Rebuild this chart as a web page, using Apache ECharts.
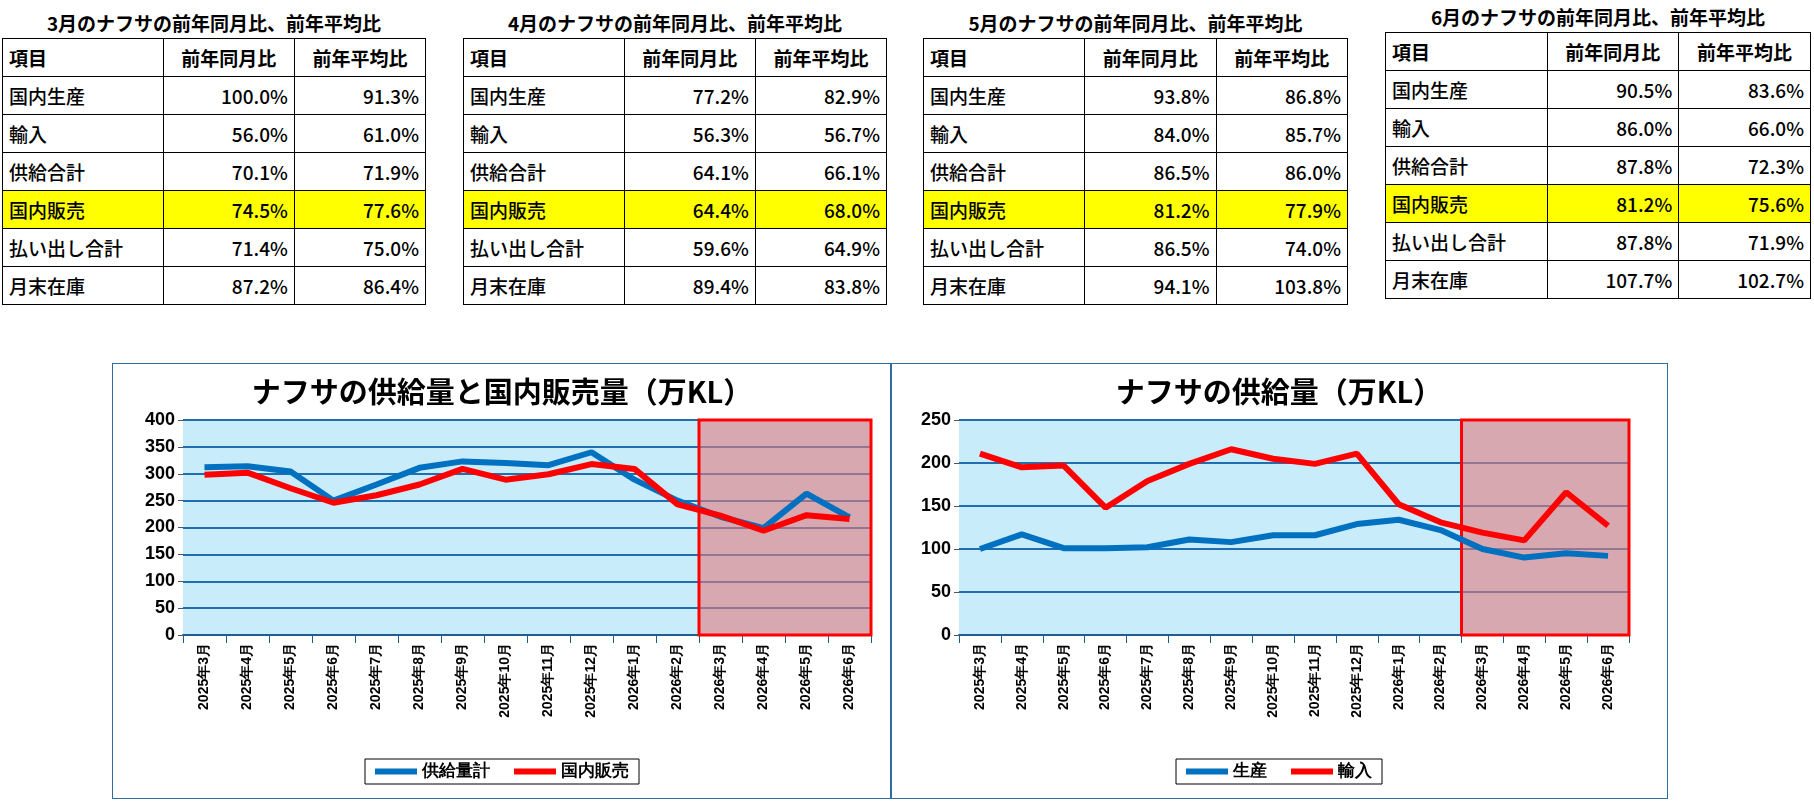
<!DOCTYPE html>
<html><head><meta charset="utf-8">
<script src="https://cdn.jsdelivr.net/npm/echarts@6/dist/echarts.min.js"></script>
<style>
body{margin:0;width:1814px;height:802px;background:#fff;position:relative;overflow:hidden;font-family:"Noto Sans CJK JP",sans-serif}
.tb{position:absolute}
.tb h3{margin:0;font-size:19px;font-weight:bold;text-align:center;height:30px;line-height:30px}
.tb table{border-collapse:collapse;width:100%;font-size:19px;font-weight:500}
.tb td{border:1.5px solid #000;height:37px;padding:0 6px;text-align:right}
.tb td:first-child{text-align:left}
.tb tr:first-child td{text-align:center;font-weight:bold}
.tb tr:first-child td:first-child{text-align:left}
.tb tr.hl td{background:#ffff00}
.chart{position:absolute;border:1.5px solid #2e6e9e;box-sizing:border-box}
</style></head><body>
<div id="tables"></div>
<div class="chart" id="c1" style="left:112px;top:363px;width:780px;height:436px"></div>
<div class="chart" id="c2" style="left:890px;top:363px;width:778px;height:436px"></div>
<script>
// 表のデータ
var rowNames = ['国内生産', '輸入', '供給合計', '国内販売', '払い出し合計', '月末在庫'];
var tableTitles = ['3月のナフサの前年同月比、前年平均比', '4月のナフサの前年同月比、前年平均比', '5月のナフサの前年同月比、前年平均比', '6月のナフサの前年同月比、前年平均比'];
var yoy3 = ['100.0%', '56.0%', '70.1%', '74.5%', '71.4%', '87.2%'];
var avg3 = ['91.3%', '61.0%', '71.9%', '77.6%', '75.0%', '86.4%'];
var yoy4 = ['77.2%', '56.3%', '64.1%', '64.4%', '59.6%', '89.4%'];
var avg4 = ['82.9%', '56.7%', '66.1%', '68.0%', '64.9%', '83.8%'];
var yoy5 = ['93.8%', '84.0%', '86.5%', '81.2%', '86.5%', '94.1%'];
var avg5 = ['86.8%', '85.7%', '86.0%', '77.9%', '74.0%', '103.8%'];
var yoy6 = ['90.5%', '86.0%', '87.8%', '81.2%', '87.8%', '107.7%'];
var avg6 = ['83.6%', '66.0%', '72.3%', '75.6%', '71.9%', '102.7%'];

// グラフのデータ
var months = ['2025年3月','2025年4月','2025年5月','2025年6月','2025年7月','2025年8月','2025年9月','2025年10月','2025年11月','2025年12月','2026年1月','2026年2月','2026年3月','2026年4月','2026年5月','2026年6月'];
var supplyTotal = [312, 314, 304, 250, 280, 311, 323, 320, 316, 340, 289, 250, 220, 199, 263, 219];
var domesticSales = [298, 302, 273, 246, 260, 280, 309, 289, 299, 318, 309, 243, 222, 194, 223, 216];
var production = [100, 117, 101, 101, 102, 111, 108, 116, 116, 129, 134, 122, 100, 90, 95, 92];
var imports = [211, 195, 197, 148, 179, 199, 216, 205, 199, 211, 152, 131, 119, 110, 166, 127];
var forecastFrom = '2026年3月';

var tableData = [[yoy3, avg3], [yoy4, avg4], [yoy5, avg5], [yoy6, avg6]];
var tablePos = [[2, 8, 424], [463, 8, 424], [923, 8, 425], [1385, 2, 426]];
var html = '';
tableData.forEach(function (d, k) {
    var p = tablePos[k];
    html += '<div class="tb" style="left:' + p[0] + 'px;top:' + p[1] + 'px;width:' + p[2] + 'px">';
    html += '<h3>' + tableTitles[k] + '</h3><table>';
    html += '<tr><td style="width:38%">項目</td><td>前年同月比</td><td>前年平均比</td></tr>';
    for (var i = 0; i < rowNames.length; i++) {
        html += '<tr' + (i == 3 ? ' class="hl"' : '') + '><td>' + rowNames[i] + '</td><td>' + d[0][i] + '</td><td>' + d[1][i] + '</td></tr>';
    }
    html += '</table></div>';
});
document.getElementById('tables').innerHTML = html;

function makeChart(el, title, names, datas, max, gridLeft, gridRight) {
    var chart = echarts.init(document.getElementById(el));
    var colors = ['#0070c0', '#ff0000'];
    var series = datas.map(function (d, i) {
        return {
            name: names[i], type: 'line', data: d, symbol: 'none', z: 3,
            lineStyle: { width: 6, color: colors[i] }, itemStyle: { color: colors[i] }
        };
    });
    // 予測期間の網掛け（カテゴリ境界に合わせるため隠し数値軸を使う）
    series.push({
        type: 'line', data: [], z: 10, silent: true, xAxisIndex: 1,
        markArea: {
            silent: true,
            itemStyle: { color: 'rgba(226,123,127,0.6)', borderColor: '#ff0000', borderWidth: 3 },
            data: [[{ xAxis: months.indexOf(forecastFrom) }, { xAxis: months.length }]]
        }
    });
    chart.setOption({
        animation: false,
        title: {
            text: title, left: 'center', top: 8,
            textStyle: { fontSize: 29, fontWeight: 'bold', color: '#000', fontFamily: 'Noto Sans CJK JP' }
        },
        legend: {
            bottom: 14, data: names, itemWidth: 42, itemHeight: 6, icon: 'rect',
            borderColor: '#000', borderWidth: 1, padding: [4, 10], itemGap: 24,
            textStyle: { fontSize: 17, fontWeight: 'bold', color: '#000' }
        },
        grid: {
            left: gridLeft, right: gridRight, top: 56, height: 215, containLabel: false,
            show: true, backgroundColor: '#c9ecfa', borderWidth: 0
        },
        xAxis: [{
            type: 'category', data: months, boundaryGap: true,
            axisLine: { lineStyle: { color: '#1f5f8f', width: 2 } },
            axisTick: { show: true, length: 8, lineStyle: { color: '#1f5f8f' } },
            axisLabel: { rotate: 90, fontSize: 14, fontWeight: 'bold', color: '#000', interval: 0 }
        }, {
            type: 'value', min: 0, max: months.length, show: false
        }],
        yAxis: {
            type: 'value', min: 0, max: max, interval: 50,
            axisLine: { show: false },
            axisLabel: { fontSize: 18, fontWeight: 'bold', color: '#000', fontFamily: 'Liberation Sans Narrow, Liberation Sans' },
            splitLine: { lineStyle: { color: '#1f6fb0', width: 2 } }
        },
        series: series
    });
}
makeChart('c1', 'ナフサの供給量と国内販売量（万KL）', ['供給量計', '国内販売'], [supplyTotal, domesticSales], 400, 70, 20);
makeChart('c2', 'ナフサの供給量（万KL）', ['生産', '輸入'], [production, imports], 250, 68, 38);
</script>
</body></html>
